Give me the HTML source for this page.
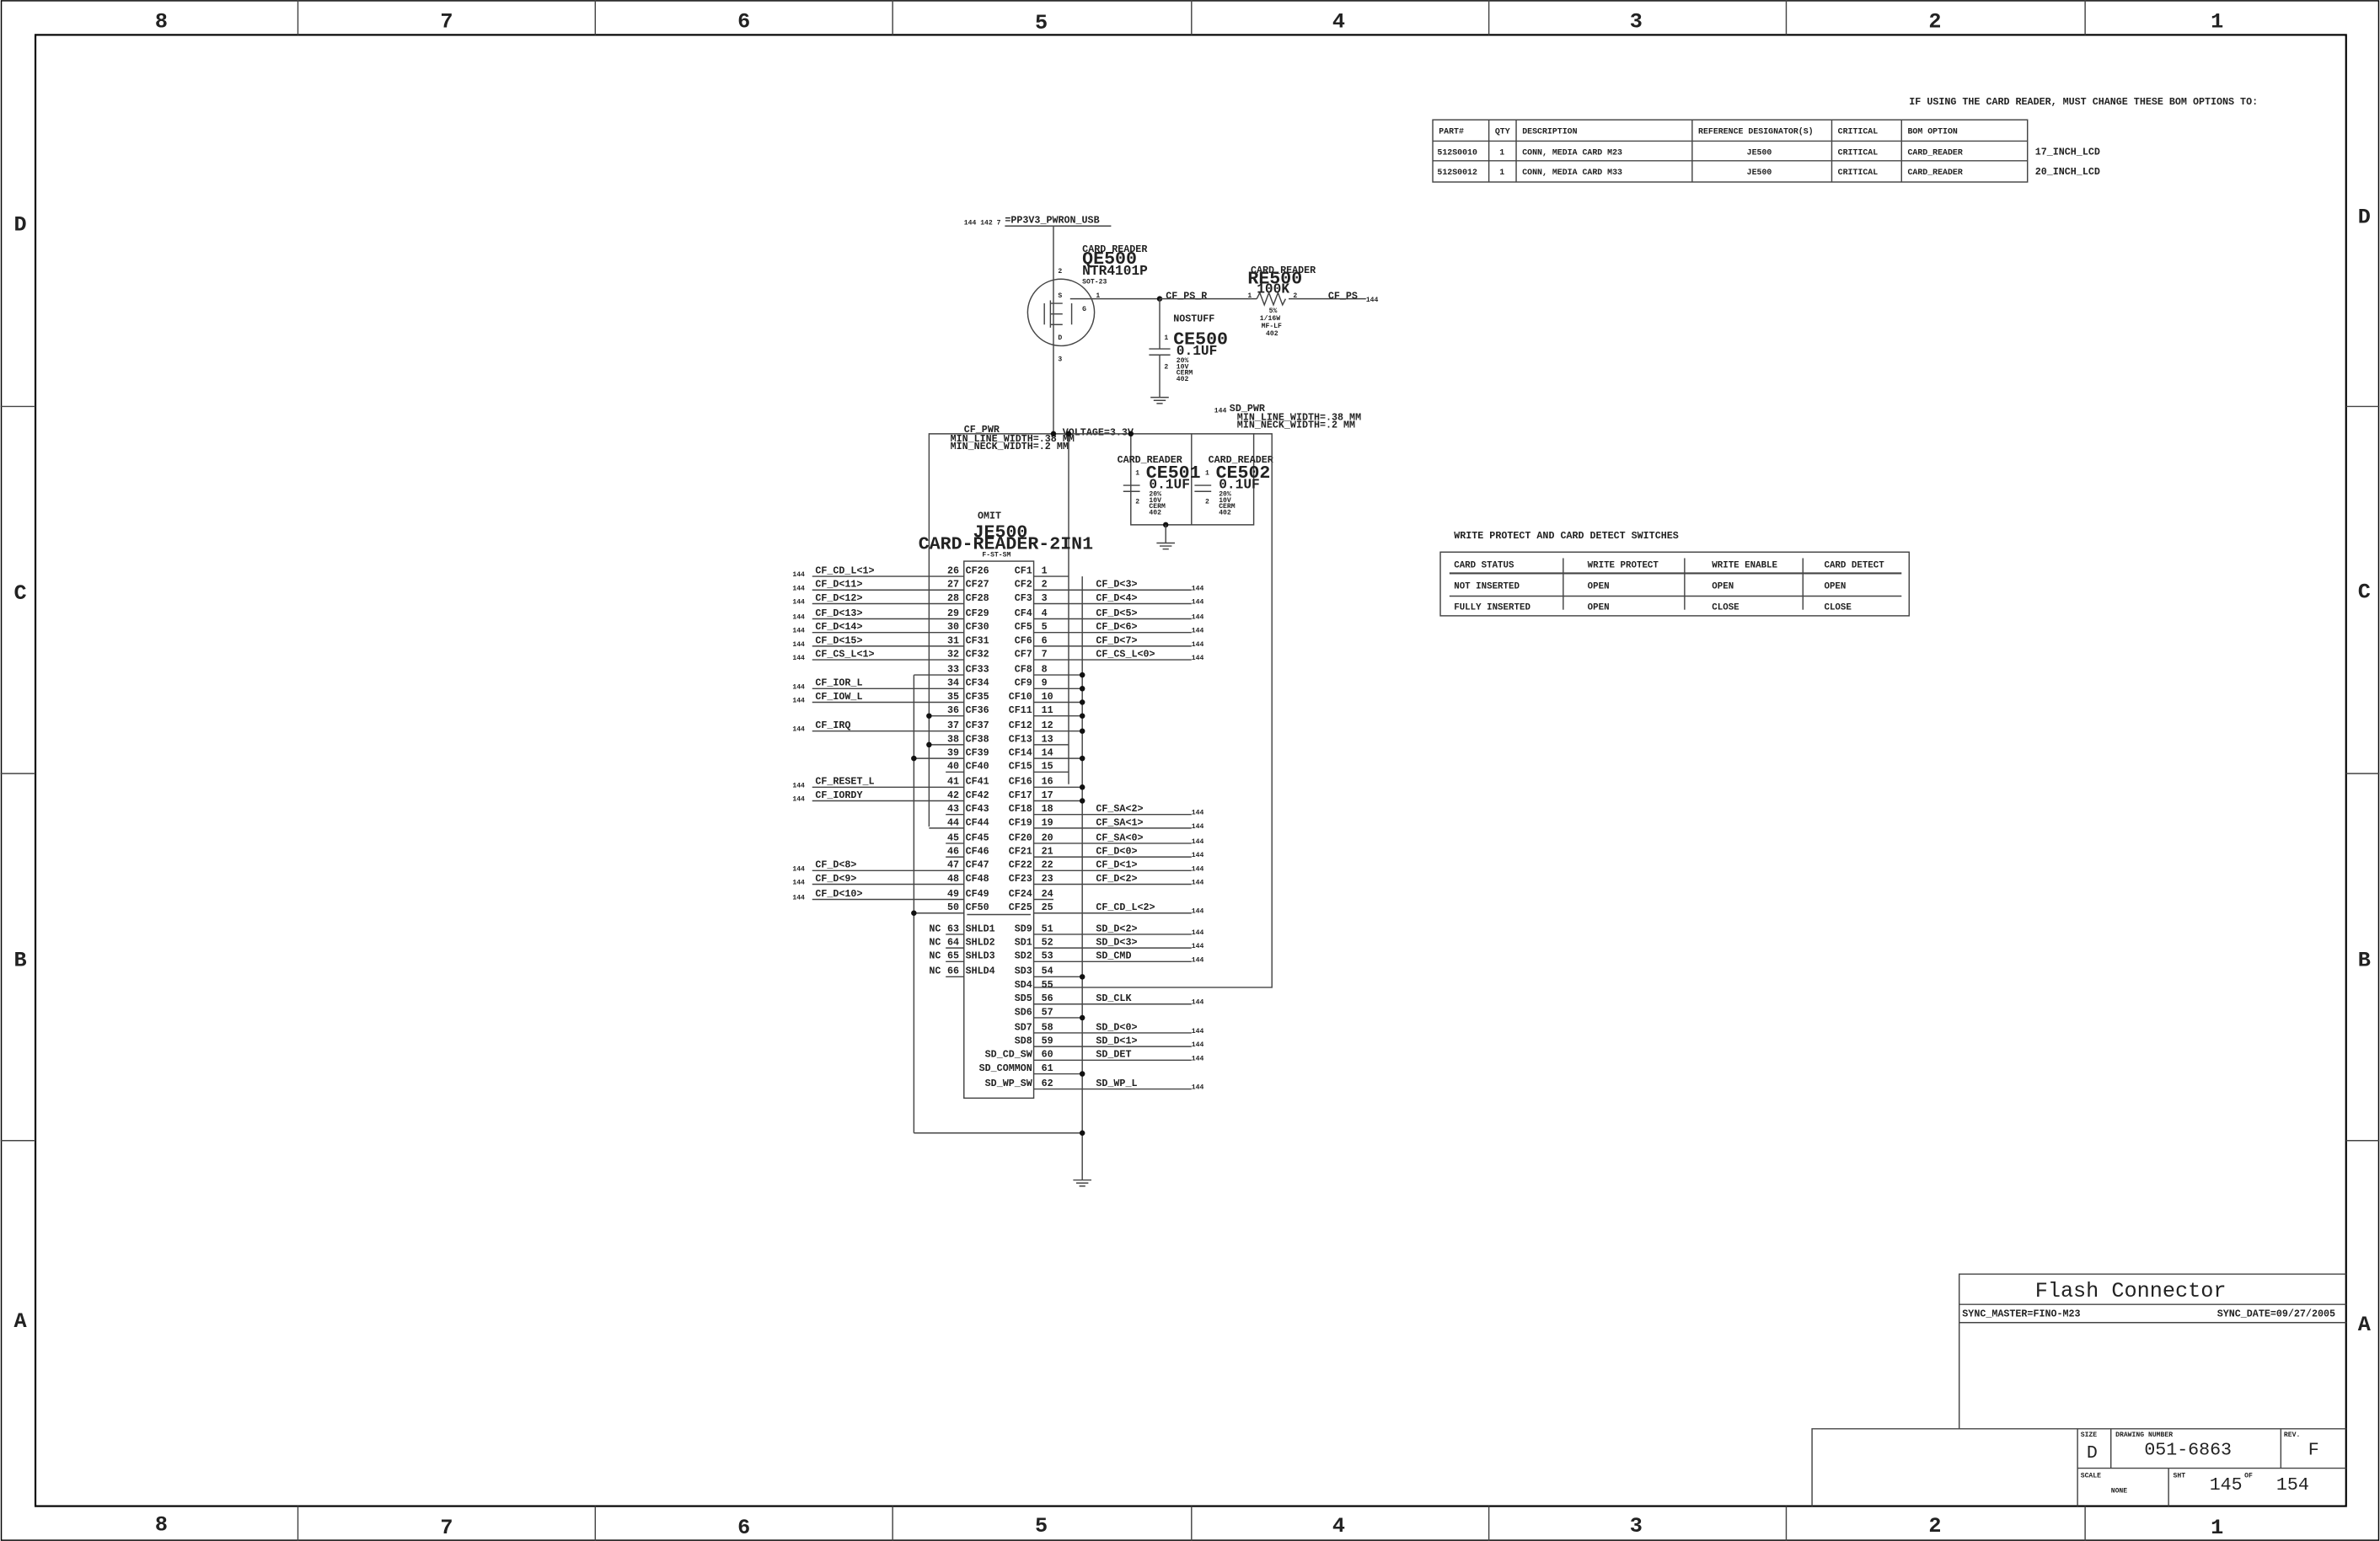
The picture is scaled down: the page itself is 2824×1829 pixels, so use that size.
<!DOCTYPE html>
<html><head><meta charset="utf-8"><style>
html,body{margin:0;padding:0;background:#fff}
svg{display:block}
text{font-family:"Liberation Mono",monospace;font-weight:bold;fill:#222}
.s{font-size:6.5px}.m{font-size:9px}.l{font-size:12px}.t{font-size:14px}.x{font-size:4.5px}
line,rect,polyline,path,circle{stroke:#444;stroke-width:0.8;fill:none}
.d{fill:#111;stroke:none}
.g{stroke:#666}
</style></head><body>
<svg width="2824" height="1829" viewBox="0 0 1568 1016" xmlns="http://www.w3.org/2000/svg">
<rect x="0.5" y="0.5" width="1567" height="1015" style="stroke:#000"/>
<rect x="23" y="23" width="1523" height="970" style="stroke:#000;stroke-width:1.2"/>
<g style="stroke:#000">
<line x1="196" y1="0" x2="196" y2="23"/><line x1="392" y1="0" x2="392" y2="23"/><line x1="588" y1="0" x2="588" y2="23"/><line x1="785" y1="0" x2="785" y2="23"/><line x1="981" y1="0" x2="981" y2="23"/><line x1="1177" y1="0" x2="1177" y2="23"/><line x1="1374" y1="0" x2="1374" y2="23"/>
<line x1="196" y1="993" x2="196" y2="1016"/><line x1="392" y1="993" x2="392" y2="1016"/><line x1="588" y1="993" x2="588" y2="1016"/><line x1="785" y1="993" x2="785" y2="1016"/><line x1="981" y1="993" x2="981" y2="1016"/><line x1="1177" y1="993" x2="1177" y2="1016"/><line x1="1374" y1="993" x2="1374" y2="1016"/>
<line x1="0" y1="268" x2="23" y2="268"/><line x1="0" y1="510" x2="23" y2="510"/><line x1="0" y1="752" x2="23" y2="752"/>
<line x1="1546" y1="268" x2="1568" y2="268"/><line x1="1546" y1="510" x2="1568" y2="510"/><line x1="1546" y1="752" x2="1568" y2="752"/>
</g>
<g class="t" text-anchor="middle" style="font-weight:normal">
<text x="106" y="18">8</text><text x="294" y="18">7</text><text x="490" y="18">6</text><text x="686" y="19">5</text><text x="882" y="18">4</text><text x="1078" y="18">3</text><text x="1275" y="18">2</text><text x="1461" y="18">1</text>
<text x="106" y="1009">8</text><text x="294" y="1011">7</text><text x="490" y="1011">6</text><text x="686" y="1010">5</text><text x="882" y="1010">4</text><text x="1078" y="1010">3</text><text x="1275" y="1010">2</text><text x="1461" y="1011">1</text>
<text x="13" y="152">D</text><text x="13" y="395">C</text><text x="13" y="637">B</text><text x="13" y="875">A</text>
<text x="1558" y="147">D</text><text x="1558" y="394">C</text><text x="1558" y="637">B</text><text x="1558" y="877">A</text>
</g>

<text class="s" x="1258" y="69">IF USING THE CARD READER, MUST CHANGE THESE BOM OPTIONS TO:</text>
<rect x="944" y="79" width="392" height="41"/>
<line x1="944" y1="93" x2="1336" y2="93"/><line x1="944" y1="106" x2="1336" y2="106"/>
<line x1="981" y1="79" x2="981" y2="120"/><line x1="999" y1="79" x2="999" y2="120"/><line x1="1115" y1="79" x2="1115" y2="120"/><line x1="1207" y1="79" x2="1207" y2="120"/><line x1="1253" y1="79" x2="1253" y2="120"/>
<g class="x" style="font-size:5.5px">
<text x="948" y="88">PART#</text><text x="985" y="88">QTY</text><text x="1003" y="88">DESCRIPTION</text><text x="1119" y="88">REFERENCE DESIGNATOR(S)</text><text x="1211" y="88">CRITICAL</text><text x="1257" y="88">BOM OPTION</text>
<text x="947" y="102">512S0010</text><text x="988" y="102">1</text><text x="1003" y="102">CONN, MEDIA CARD M23</text><text x="1151" y="102">JE500</text><text x="1211" y="102">CRITICAL</text><text x="1257" y="102">CARD_READER</text>
<text x="947" y="115">512S0012</text><text x="988" y="115">1</text><text x="1003" y="115">CONN, MEDIA CARD M33</text><text x="1151" y="115">JE500</text><text x="1211" y="115">CRITICAL</text><text x="1257" y="115">CARD_READER</text>
</g>
<text class="s" x="1341" y="102">17_INCH_LCD</text><text class="s" x="1341" y="115">20_INCH_LCD</text>

<text class="s" x="958" y="355">WRITE PROTECT AND CARD DETECT SWITCHES</text>
<rect x="949" y="364" width="309" height="42"/>
<line x1="955" y1="378" x2="1253" y2="378" style="stroke-width:1.2"/><line x1="955" y1="393" x2="1253" y2="393"/>
<line x1="1030" y1="368" x2="1030" y2="402"/><line x1="1110" y1="368" x2="1110" y2="402"/><line x1="1188" y1="368" x2="1188" y2="402"/>
<g class="s" style="font-size:6px">
<text x="958" y="374">CARD STATUS</text><text x="1046" y="374">WRITE PROTECT</text><text x="1128" y="374">WRITE ENABLE</text><text x="1202" y="374">CARD DETECT</text>
<text x="958" y="388">NOT INSERTED</text><text x="1046" y="388">OPEN</text><text x="1128" y="388">OPEN</text><text x="1202" y="388">OPEN</text>
<text x="958" y="402">FULLY INSERTED</text><text x="1046" y="402">OPEN</text><text x="1128" y="402">CLOSE</text><text x="1202" y="402">CLOSE</text>
</g>

<text class="x" x="635" y="148">144 142 7</text><text class="s" x="662" y="147">=PP3V3_PWRON_USB</text>
<line x1="662" y1="149" x2="732" y2="149"/>
<line x1="694" y1="149" x2="694" y2="286"/>
<circle cx="699" cy="206" r="22"/>
<line x1="705" y1="197" x2="764" y2="197"/>
<text class="x" x="697" y="180">2</text><text class="x" x="697" y="238">3</text><text class="x" x="722" y="196">1</text>
<text class="x" x="697" y="196">S</text><text class="x" x="713" y="205">G</text><text class="x" x="697" y="224">D</text>
<path d="M688 200 L688 214 M692 198 L692 216 M692 200 L700 200 M692 207 L700 207 M692 214 L700 214 M706 200 L706 214"/>
<text class="s" x="713" y="166">CARD_READER</text><text class="l" x="713" y="174">QE500</text><text class="m" x="713" y="181">NTR4101P</text><text class="x" x="713" y="187">SOT-23</text>
<circle class="d" cx="764" cy="197" r="1.8"/>
<text class="s" x="768" y="197">CF_PS_R</text>
<line x1="764" y1="197" x2="828" y2="197"/>
<path d="M828 197 l2 -4 l3 8 l3 -8 l3 8 l3 -8 l3 8 l2 -4"/>
<line x1="849" y1="197" x2="900" y2="197"/>
<text class="x" x="822" y="196">1</text><text class="x" x="852" y="196">2</text>
<text class="s" x="824" y="180">CARD_READER</text><text class="l" x="822" y="187">RE500</text><text class="m" x="828" y="193">100K</text>
<text class="x" x="836" y="206">5%</text><text class="x" x="830" y="211">1/16W</text><text class="x" x="831" y="216">MF-LF</text><text class="x" x="834" y="221">402</text>
<text class="s" x="875" y="197">CF_PS</text><text class="x" x="900" y="199">144</text>
<text class="s" x="773" y="212">NOSTUFF</text>
<line x1="764" y1="197" x2="764" y2="230"/><line x1="757" y1="230" x2="771" y2="230"/><line x1="757" y1="234" x2="771" y2="234"/><line x1="764" y1="234" x2="764" y2="262"/>
<path d="M758 262 h12 M760 264 h8 M762 266 h4"/>
<text class="x" x="767" y="224">1</text><text class="x" x="767" y="243">2</text>
<text class="l" x="773" y="227">CE500</text><text class="m" x="775" y="234">0.1UF</text>
<text class="x" x="775" y="239">20%</text><text class="x" x="775" y="243">10V</text><text class="x" x="775" y="247">CERM</text><text class="x" x="775" y="251">402</text>

<text class="s" x="635" y="285">CF_PWR</text>
<text class="s" x="626" y="291">MIN_LINE_WIDTH=.38 MM</text><text class="s" x="626" y="296">MIN_NECK_WIDTH=.2 MM</text>
<text class="s" x="700" y="287">VOLTAGE=3.3V</text>
<polyline points="612,545 612,286 826,286 826,346 745,346 745,286"/>
<line x1="602" y1="445" x2="602" y2="747"/>
<line x1="704" y1="286" x2="704" y2="517"/>
<line x1="785" y1="286" x2="785" y2="346"/>
<circle class="d" cx="694" cy="286" r="1.8"/><circle class="d" cx="704" cy="286" r="1.8"/><circle class="d" cx="745" cy="286" r="1.8"/>
<circle class="d" cx="768" cy="346" r="1.8"/>
<line x1="768" y1="346" x2="768" y2="358"/><path d="M762 358 h12 M764 360 h8 M766 362 h4"/>
<line x1="740" y1="320" x2="751" y2="320"/><line x1="740" y1="324" x2="751" y2="324"/>
<line x1="787" y1="320" x2="798" y2="320"/><line x1="787" y1="324" x2="798" y2="324"/>
<text class="s" x="736" y="305">CARD_READER</text><text class="l" x="755" y="315">CE501</text><text class="m" x="757" y="322">0.1UF</text>
<text class="x" x="748" y="313">1</text><text class="x" x="748" y="332">2</text>
<text class="x" x="757" y="327">20%</text><text class="x" x="757" y="331">10V</text><text class="x" x="757" y="335">CERM</text><text class="x" x="757" y="339">402</text>
<text class="s" x="796" y="305">CARD_READER</text><text class="l" x="801" y="315">CE502</text><text class="m" x="803" y="322">0.1UF</text>
<text class="x" x="794" y="313">1</text><text class="x" x="794" y="332">2</text>
<text class="x" x="803" y="327">20%</text><text class="x" x="803" y="331">10V</text><text class="x" x="803" y="335">CERM</text><text class="x" x="803" y="339">402</text>
<text class="x" x="800" y="272">144</text><text class="s" x="810" y="271">SD_PWR</text>
<text class="s" x="815" y="277">MIN_LINE_WIDTH=.38 MM</text><text class="s" x="815" y="282">MIN_NECK_WIDTH=.2 MM</text>
<polyline points="681,651 838,651 838,286 826,286"/>

<text class="s" x="644" y="342">OMIT</text><text class="l" x="641" y="354">JE500</text><text class="l" x="605" y="362">CARD-READER-2IN1</text><text class="x" x="647" y="367">F-ST-SM</text>
<rect x="635" y="370" width="46" height="354"/>
<line x1="637" y1="603" x2="679" y2="603"/>
<line x1="713" y1="380" x2="713" y2="778"/>
<line x1="602" y1="747" x2="713" y2="747"/>
<path d="M707 778 h12 M709 780 h8 M711 782 h4"/>
<g class="s" style="font-size:6.5px">
<text x="624" y="378">26</text><text x="624" y="387">27</text><text x="624" y="396">28</text><text x="624" y="406">29</text><text x="624" y="415">30</text><text x="624" y="424">31</text><text x="624" y="433">32</text><text x="624" y="443">33</text><text x="624" y="452">34</text><text x="624" y="461">35</text><text x="624" y="470">36</text><text x="624" y="480">37</text><text x="624" y="489">38</text><text x="624" y="498">39</text><text x="624" y="507">40</text><text x="624" y="517">41</text><text x="624" y="526">42</text><text x="624" y="535">43</text><text x="624" y="544">44</text><text x="624" y="554">45</text><text x="624" y="563">46</text><text x="624" y="572">47</text><text x="624" y="581">48</text><text x="624" y="591">49</text><text x="624" y="600">50</text>
<text x="636" y="378">CF26</text><text x="636" y="387">CF27</text><text x="636" y="396">CF28</text><text x="636" y="406">CF29</text><text x="636" y="415">CF30</text><text x="636" y="424">CF31</text><text x="636" y="433">CF32</text><text x="636" y="443">CF33</text><text x="636" y="452">CF34</text><text x="636" y="461">CF35</text><text x="636" y="470">CF36</text><text x="636" y="480">CF37</text><text x="636" y="489">CF38</text><text x="636" y="498">CF39</text><text x="636" y="507">CF40</text><text x="636" y="517">CF41</text><text x="636" y="526">CF42</text><text x="636" y="535">CF43</text><text x="636" y="544">CF44</text><text x="636" y="554">CF45</text><text x="636" y="563">CF46</text><text x="636" y="572">CF47</text><text x="636" y="581">CF48</text><text x="636" y="591">CF49</text><text x="636" y="600">CF50</text>
<text x="612" y="614">NC</text><text x="612" y="623">NC</text><text x="612" y="632">NC</text><text x="612" y="642">NC</text>
<text x="624" y="614">63</text><text x="624" y="623">64</text><text x="624" y="632">65</text><text x="624" y="642">66</text>
<text x="636" y="614">SHLD1</text><text x="636" y="623">SHLD2</text><text x="636" y="632">SHLD3</text><text x="636" y="642">SHLD4</text>
<g text-anchor="end">
<text x="680" y="378">CF1</text><text x="680" y="387">CF2</text><text x="680" y="396">CF3</text><text x="680" y="406">CF4</text><text x="680" y="415">CF5</text><text x="680" y="424">CF6</text><text x="680" y="433">CF7</text><text x="680" y="443">CF8</text><text x="680" y="452">CF9</text><text x="680" y="461">CF10</text><text x="680" y="470">CF11</text><text x="680" y="480">CF12</text><text x="680" y="489">CF13</text><text x="680" y="498">CF14</text><text x="680" y="507">CF15</text><text x="680" y="517">CF16</text><text x="680" y="526">CF17</text><text x="680" y="535">CF18</text><text x="680" y="544">CF19</text><text x="680" y="554">CF20</text><text x="680" y="563">CF21</text><text x="680" y="572">CF22</text><text x="680" y="581">CF23</text><text x="680" y="591">CF24</text><text x="680" y="600">CF25</text>
<text x="680" y="614">SD9</text><text x="680" y="623">SD1</text><text x="680" y="632">SD2</text><text x="680" y="642">SD3</text><text x="680" y="651">SD4</text><text x="680" y="660">SD5</text><text x="680" y="669">SD6</text><text x="680" y="679">SD7</text><text x="680" y="688">SD8</text><text x="680" y="697">SD_CD_SW</text><text x="680" y="706">SD_COMMON</text><text x="680" y="716">SD_WP_SW</text>
</g>
<text x="686" y="378">1</text><text x="686" y="387">2</text><text x="686" y="396">3</text><text x="686" y="406">4</text><text x="686" y="415">5</text><text x="686" y="424">6</text><text x="686" y="433">7</text><text x="686" y="443">8</text><text x="686" y="452">9</text><text x="686" y="461">10</text><text x="686" y="470">11</text><text x="686" y="480">12</text><text x="686" y="489">13</text><text x="686" y="498">14</text><text x="686" y="507">15</text><text x="686" y="517">16</text><text x="686" y="526">17</text><text x="686" y="535">18</text><text x="686" y="544">19</text><text x="686" y="554">20</text><text x="686" y="563">21</text><text x="686" y="572">22</text><text x="686" y="581">23</text><text x="686" y="591">24</text><text x="686" y="600">25</text>
<text x="686" y="614">51</text><text x="686" y="623">52</text><text x="686" y="632">53</text><text x="686" y="642">54</text><text x="686" y="651">55</text><text x="686" y="660">56</text><text x="686" y="669">57</text><text x="686" y="679">58</text><text x="686" y="688">59</text><text x="686" y="697">60</text><text x="686" y="706">61</text><text x="686" y="716">62</text>
<text x="537" y="378">CF_CD_L&lt;1&gt;</text><text x="537" y="387">CF_D&lt;11&gt;</text><text x="537" y="396">CF_D&lt;12&gt;</text><text x="537" y="406">CF_D&lt;13&gt;</text><text x="537" y="415">CF_D&lt;14&gt;</text><text x="537" y="424">CF_D&lt;15&gt;</text><text x="537" y="433">CF_CS_L&lt;1&gt;</text>
<text x="537" y="452">CF_IOR_L</text><text x="537" y="461">CF_IOW_L</text><text x="537" y="480">CF_IRQ</text><text x="537" y="517">CF_RESET_L</text><text x="537" y="526">CF_IORDY</text>
<text x="537" y="572">CF_D&lt;8&gt;</text><text x="537" y="581">CF_D&lt;9&gt;</text><text x="537" y="591">CF_D&lt;10&gt;</text>
<text x="722" y="387">CF_D&lt;3&gt;</text><text x="722" y="396">CF_D&lt;4&gt;</text><text x="722" y="406">CF_D&lt;5&gt;</text><text x="722" y="415">CF_D&lt;6&gt;</text><text x="722" y="424">CF_D&lt;7&gt;</text><text x="722" y="433">CF_CS_L&lt;0&gt;</text>
<text x="722" y="535">CF_SA&lt;2&gt;</text><text x="722" y="544">CF_SA&lt;1&gt;</text><text x="722" y="554">CF_SA&lt;0&gt;</text><text x="722" y="563">CF_D&lt;0&gt;</text><text x="722" y="572">CF_D&lt;1&gt;</text><text x="722" y="581">CF_D&lt;2&gt;</text><text x="722" y="600">CF_CD_L&lt;2&gt;</text>
<text x="722" y="614">SD_D&lt;2&gt;</text><text x="722" y="623">SD_D&lt;3&gt;</text><text x="722" y="632">SD_CMD</text><text x="722" y="660">SD_CLK</text><text x="722" y="679">SD_D&lt;0&gt;</text><text x="722" y="688">SD_D&lt;1&gt;</text><text x="722" y="697">SD_DET</text><text x="722" y="716">SD_WP_L</text>
</g>
<g class="x">
<text x="522" y="380">144</text><text x="522" y="389">144</text><text x="522" y="398">144</text><text x="522" y="408">144</text><text x="522" y="417">144</text><text x="522" y="426">144</text><text x="522" y="435">144</text><text x="522" y="454">144</text><text x="522" y="463">144</text><text x="522" y="482">144</text><text x="522" y="519">144</text><text x="522" y="528">144</text><text x="522" y="574">144</text><text x="522" y="583">144</text><text x="522" y="593">144</text>
<text x="785" y="389">144</text><text x="785" y="398">144</text><text x="785" y="408">144</text><text x="785" y="417">144</text><text x="785" y="426">144</text><text x="785" y="435">144</text><text x="785" y="537">144</text><text x="785" y="546">144</text><text x="785" y="556">144</text><text x="785" y="565">144</text><text x="785" y="574">144</text><text x="785" y="583">144</text><text x="785" y="602">144</text><text x="785" y="616">144</text><text x="785" y="625">144</text><text x="785" y="634">144</text><text x="785" y="662">144</text><text x="785" y="681">144</text><text x="785" y="690">144</text><text x="785" y="699">144</text><text x="785" y="718">144</text>
</g>
<g class="g">
<path d="M535 380h100M535 389h100M535 398h100M535 408h100M535 417h100M535 426h100M535 435h100M602 445h33M535 454h100M535 463h100M612 472h23M535 482h100M612 491h23M602 500h33M623 509h12M535 519h100M535 528h100M623 537h12M612 546h23M623 556h12M623 565h12M535 574h100M535 583h100M535 593h100M602 602h33M623 616h12M623 625h12M623 634h12M623 644h12"/>
<path d="M681 380h23M681 389h104M681 398h104M681 408h104M681 417h104M681 426h104M681 435h104M681 445h32M681 454h32M681 463h32M681 472h32M681 482h32M681 491h23M681 500h32M681 509h23M681 519h32M681 528h32M681 537h104M681 546h104M681 556h104M681 565h104M681 574h104M681 583h104M681 593h13M681 602h104M681 616h104M681 625h104M681 634h104M681 644h32M681 662h104M681 671h32M681 681h104M681 690h104M681 699h104M681 708h32M681 718h104"/>
</g>
<g>
<circle class="d" cx="713" cy="445" r="1.8"/><circle class="d" cx="713" cy="454" r="1.8"/><circle class="d" cx="713" cy="463" r="1.8"/><circle class="d" cx="713" cy="472" r="1.8"/><circle class="d" cx="713" cy="482" r="1.8"/><circle class="d" cx="713" cy="500" r="1.8"/><circle class="d" cx="713" cy="519" r="1.8"/><circle class="d" cx="713" cy="528" r="1.8"/>
<circle class="d" cx="713" cy="644" r="1.8"/><circle class="d" cx="713" cy="671" r="1.8"/><circle class="d" cx="713" cy="708" r="1.8"/><circle class="d" cx="713" cy="747" r="1.8"/>
<circle class="d" cx="612" cy="472" r="1.8"/><circle class="d" cx="612" cy="491" r="1.8"/><circle class="d" cx="602" cy="500" r="1.8"/><circle class="d" cx="602" cy="602" r="1.8"/>
</g>

<g style="stroke:#000">
<polyline points="1546,840 1291,840 1291,942"/>
<line x1="1291" y1="860" x2="1546" y2="860"/><line x1="1291" y1="872" x2="1546" y2="872"/>
<polyline points="1546,942 1194,942 1194,993"/>
<line x1="1369" y1="942" x2="1369" y2="993"/><line x1="1369" y1="968" x2="1546" y2="968"/>
<line x1="1391" y1="942" x2="1391" y2="968"/><line x1="1503" y1="942" x2="1503" y2="968"/><line x1="1429" y1="968" x2="1429" y2="993"/>
</g>
<text x="1341" y="855" style="font-size:14px;font-weight:normal">Flash Connector</text>
<text class="s" x="1293" y="868">SYNC_MASTER=FINO-M23</text><text class="s" x="1461" y="868">SYNC_DATE=09/27/2005</text>
<text class="x" x="1371" y="947">SIZE</text><text class="x" x="1394" y="947">DRAWING NUMBER</text><text class="x" x="1505" y="947">REV.</text>
<text class="l" x="1375" y="961" style="font-weight:normal">D</text><text class="l" x="1413" y="959" style="font-weight:normal">051-6863</text><text class="l" x="1521" y="959" style="font-weight:normal">F</text>
<text class="x" x="1371" y="974">SCALE</text><text class="x" x="1391" y="984">NONE</text><text class="x" x="1432" y="974">SHT</text><text class="x" x="1479" y="974">OF</text>
<text class="l" x="1456" y="982" style="font-weight:normal">145</text><text class="l" x="1500" y="982" style="font-weight:normal">154</text>
</svg>
</body></html>
